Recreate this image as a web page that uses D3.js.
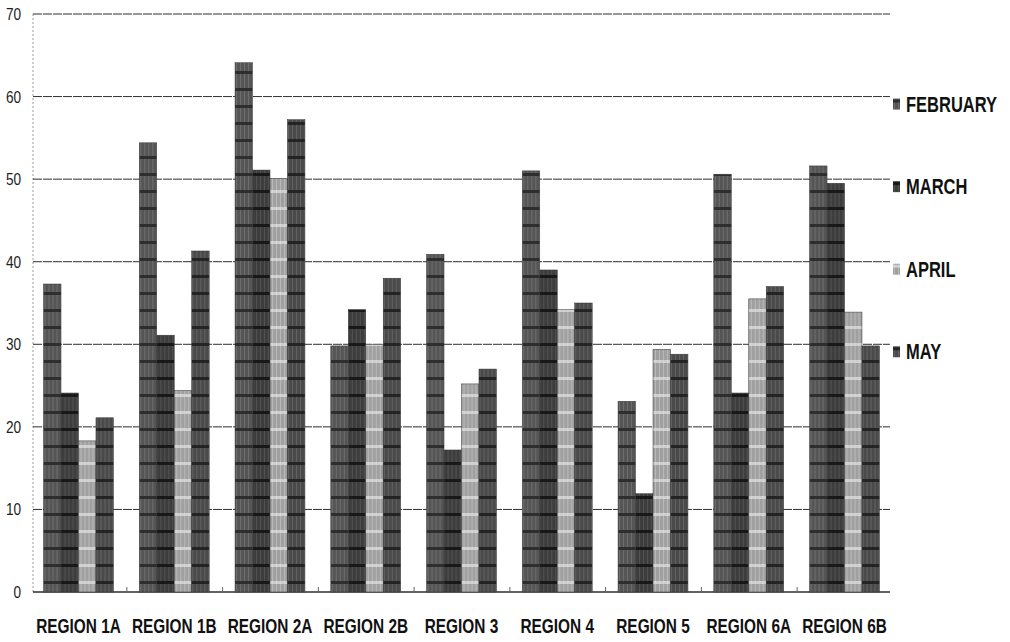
<!DOCTYPE html>
<html>
<head>
<meta charset="utf-8">
<script src="https://cdn.jsdelivr.net/npm/d3@7"></script>
<style>
  body { margin: 0; background: #fff; }
  svg { display: block; }
</style>
</head>
<body>
<div id="vis"></div>
<script>
const W = 1010, H = 642;

// data
const regions = ["REGION 1A", "REGION 1B", "REGION 2A", "REGION 2B", "REGION 3",
                 "REGION 4", "REGION 5", "REGION 6A", "REGION 6B"];
const months = ["FEBRUARY", "MARCH", "APRIL", "MAY"];
const february = [37.3, 54.4, 64.1, 29.8, 40.9, 51.0, 23.1, 50.6, 51.6];
const march    = [24.1, 31.1, 51.1, 34.2, 17.2, 39.0, 11.9, 24.1, 49.5];
const april    = [18.3, 24.4, 50.1, 30.0, 25.2, 34.2, 29.4, 35.5, 33.9];
const may      = [21.1, 41.3, 57.2, 38.0, 27.0, 35.0, 28.8, 37.0, 29.8];
const yTicks = [0, 10, 20, 30, 40, 50, 60, 70];

const series = [february, march, april, may];
const rows = regions.map((r, i) => ({
  region: r,
  values: months.map((m, j) => ({ month: m, value: series[j][i] }))
}));

// tones for the scanned hatch look
const base   = { FEBRUARY: "#555555", MARCH: "#3d3d3d", APRIL: "#a0a0a0", MAY: "#4a4a4a" };
const stripe = { FEBRUARY: "#262626", MARCH: "#121212", APRIL: "#ececec", MAY: "#1c1c1c" };
const grain  = { FEBRUARY: "#7a7a7a", MARCH: "#5c5c5c", APRIL: "#c4c4c4", MAY: "#6c6c6c" };

const plotLeft = 33, plotRight = 890, plotTop = 14, plotBottom = 592;
const NARROW = 0.77;

const svg = d3.select("#vis").append("svg")
  .attr("width", W).attr("height", H)
  .style("font-family", "'Liberation Sans', Arial, sans-serif");

const x0 = d3.scaleBand().domain(regions)
  .range([plotLeft, plotRight]).paddingInner(0.27).paddingOuter(0.11);
const x1 = d3.scaleBand().domain(months).range([0, x0.bandwidth()]).padding(0);
const y = d3.scaleLinear().domain([0, 70]).range([plotBottom, plotTop]);

// patterns
const defs = svg.append("defs");
months.forEach((m, k) => {
  const p = defs.append("pattern")
    .attr("id", "pat" + k)
    .attr("patternUnits", "userSpaceOnUse")
    .attr("width", 4).attr("height", 17)
    .attr("y", plotBottom);
  p.append("rect").attr("width", 4).attr("height", 17).attr("fill", base[m]);
  p.append("rect").attr("x", 1).attr("width", 1).attr("height", 17)
    .attr("fill", grain[m]).attr("opacity", 0.7);
  p.append("rect").attr("y", 6).attr("width", 4).attr("height", 3)
    .attr("fill", stripe[m]).attr("opacity", m === "APRIL" ? 0.6 : 0.85);
});

// y axis line (faint, dotted)
svg.append("line")
  .attr("x1", plotLeft).attr("x2", plotLeft)
  .attr("y1", y(70)).attr("y2", plotBottom)
  .attr("stroke", "#9a9a9a").attr("stroke-dasharray", "2,2");

// gridlines
svg.append("g").selectAll("line")
  .data(yTicks)
  .join("line")
  .attr("x1", plotLeft).attr("x2", plotRight)
  .attr("y1", d => y(d)).attr("y2", d => y(d))
  .attr("stroke", "#2e2e2e")
  .attr("stroke-width", d => d === 0 ? 1.3 : 1)
  .attr("stroke-dasharray", d => d === 0 ? null : "9,1");

// y tick labels
svg.append("g").selectAll("text")
  .data(yTicks)
  .join("text")
  .attr("transform", d => "translate(21," + (y(d) + 6) + ") scale(0.85,1)")
  .attr("text-anchor", "end")
  .attr("font-size", 16)
  .attr("fill", "#222")
  .text(d => d);

// small marks on the baseline between regions
svg.append("g").selectAll("line")
  .data(regions.slice(1))
  .join("line")
  .attr("x1", d => x0(d) - x0.step() * 0.13).attr("x2", d => x0(d) - x0.step() * 0.13)
  .attr("y1", plotBottom).attr("y2", plotBottom - 5)
  .attr("stroke", "#666");

// bars
const groups = svg.append("g").selectAll("g")
  .data(rows)
  .join("g")
  .attr("transform", d => "translate(" + x0(d.region) + ",0)");

groups.selectAll("rect")
  .data(d => d.values)
  .join("rect")
  .attr("x", d => x1(d.month))
  .attr("y", d => y(d.value))
  .attr("width", x1.bandwidth())
  .attr("height", d => plotBottom - y(d.value))
  .attr("fill", (d, i) => "url(#pat" + i + ")")
  .attr("stroke", "#333")
  .attr("stroke-width", 0.5);

// region labels (condensed bold)
svg.append("g").selectAll("text")
  .data(regions)
  .join("text")
  .attr("transform", d => "translate(" + (x0(d) + x0.bandwidth() / 2) + ",633) scale(" + NARROW + ",1)")
  .attr("text-anchor", "middle")
  .attr("font-size", 20)
  .attr("font-weight", "bold")
  .attr("fill", "#111")
  .text(d => d);

// legend, one entry beside each gridline 60..30
const legendY = [60, 50, 40, 30];
const legend = svg.append("g").selectAll("g")
  .data(months)
  .join("g")
  .attr("transform", (d, i) => "translate(893," + y(legendY[i]) + ")");

legend.append("rect")
  .attr("x", 0).attr("y", 2)
  .attr("width", 7).attr("height", 11)
  .attr("fill", (d, i) => "url(#pat" + i + ")");

legend.append("text")
  .attr("transform", "translate(13,15) scale(0.75,1)")
  .attr("font-size", 22)
  .attr("font-weight", "bold")
  .attr("fill", "#111")
  .text(d => d);
</script>
</body>
</html>
